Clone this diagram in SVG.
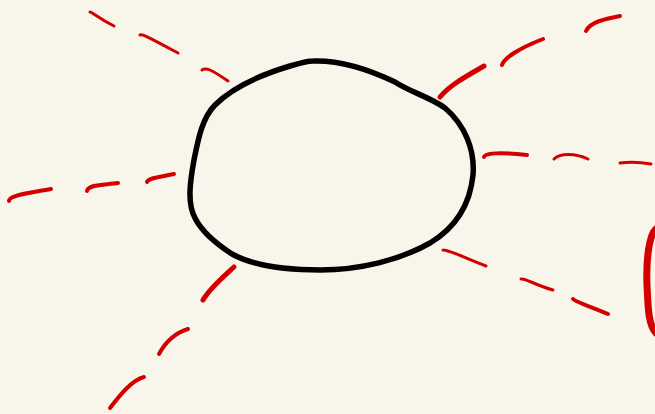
<svg xmlns="http://www.w3.org/2000/svg" width="655" height="414" viewBox="0 0 655 414">
<style>
.d{fill:none;stroke:#d40000;stroke-linecap:round;stroke-linejoin:round}
.t{stroke-width:3}
.m{stroke-width:4}
.k{stroke-width:5}
</style>
<rect width="655" height="414" fill="#f8f6eb"/>
<g id="circle">
<path d="M313,61 C340,60 370,70 395,82 C410,92 430,97 445,108 C465,125 475,150 473,175 C470,205 455,228 430,243 C400,260 360,270 320,270 C280,270 252,265 232,254 C215,243 202,232 195,218 C187,203 190,182 194,160 C198,140 202,118 215,105 C232,88 260,75 290,66 C300,63 308,61 313,61 Z" fill="none" stroke="#000" stroke-width="5.5" stroke-linejoin="round"/>
</g>
<g id="rays">
<path class="d t" d="M90,12 C92,12 98,18 114,26"/>
<path class="d t" d="M140,35 C141,33 150,38 178,53"/>
<path class="d t" d="M202,70 C206,67 212,70 228,81"/>
<path class="d k" d="M440,97 C450,85 465,77 484,66"/>
<path class="d m" d="M502,65 C504,58 520,48 543,39"/>
<path class="d m" d="M586,31 C590,22 605,19 620,16"/>
<path class="d m" d="M9,201 C9,195 30,193 51,189"/>
<path class="d m" d="M87,191 C88,184 105,185 118,183"/>
<path class="d m" d="M147,182 C148,178 160,177 174,174"/>
<path class="d m" d="M484,157 C484,153 500,152 527,155"/>
<path class="d t" d="M554,159 C560,153 575,153 588,159"/>
<path class="d t" d="M620,163 C628,162 640,162 651,164"/>
<path class="d t" d="M443,250 C450,250 465,258 486,266"/>
<path class="d t" d="M521,279 C525,278 535,285 553,290"/>
<path class="d m" d="M573,299 C575,302 590,306 608,314"/>
<path class="d k" d="M203,300 C210,288 222,278 234,267"/>
<path class="d m" d="M159,354 C165,343 175,333 188,329"/>
<path class="d m" d="M110,408 C120,395 132,380 144,377"/>
<path d="M656,229 C649,235 646,260 647,285 C648,305 648,325 656,333" fill="none" stroke="#d40000" stroke-width="7" stroke-linecap="round"/>
</g>
</svg>
